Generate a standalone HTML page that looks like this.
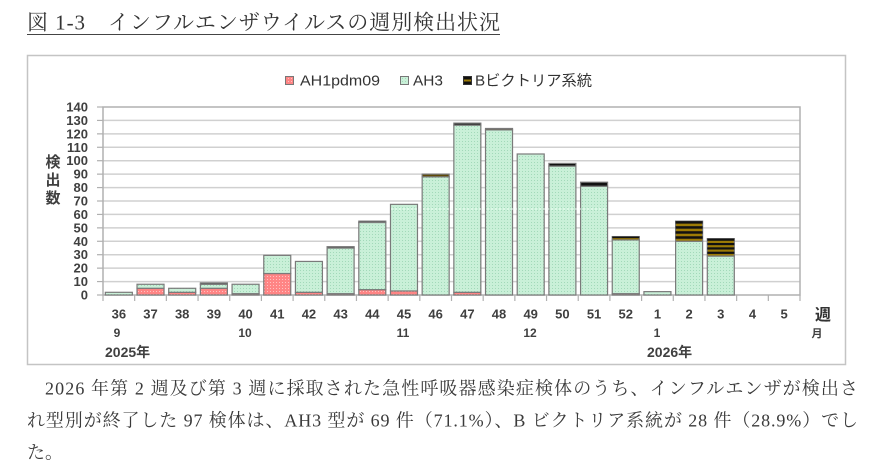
<!DOCTYPE html>
<html><head><meta charset="utf-8"><style>
html,body{margin:0;padding:0;background:#fff;}
svg{display:block;}
.s{font-family:"Liberation Sans","Noto Sans CJK JP",sans-serif;}
.m{font-family:"Liberation Serif","Noto Serif CJK SC",serif;}
</style></head><body>
<svg width="886" height="472" viewBox="0 0 886 472" xmlns="http://www.w3.org/2000/svg">
<defs>
<pattern id="g" width="3" height="3" patternUnits="userSpaceOnUse"><rect width="3" height="3" fill="#c9f0d8"/><rect width="1" height="1" fill="#a2d9b9"/></pattern>
<pattern id="r" width="3" height="3" patternUnits="userSpaceOnUse"><rect width="3" height="3" fill="#ff8585"/><rect width="1" height="1" fill="#ffc2c2"/></pattern>
</defs>
<rect width="886" height="472" fill="#fff"/>
<!-- title -->
<text class="m" x="27" y="29.5" font-size="21" fill="#333" textLength="473" lengthAdjust="spacing">図 1-3　インフルエンザウイルスの週別検出状況</text>
<line x1="27" y1="34.5" x2="500" y2="34.5" stroke="#444" stroke-width="1"/>
<!-- chart box -->
<rect x="27.5" y="55.5" width="818" height="309" fill="#fff" stroke="#c4c4c4" stroke-width="1.5"/>
<!-- legend -->
<rect x="285.5" y="76.5" width="8" height="8" fill="url(#r)" stroke="#777" stroke-width="1"/>
<text class="s" x="300" y="85.5" font-size="15" fill="#333" textLength="80" lengthAdjust="spacingAndGlyphs">AH1pdm09</text>
<rect x="400.5" y="76.5" width="8" height="8" fill="url(#g)" stroke="#777" stroke-width="1"/>
<text class="s" x="413" y="85.5" font-size="15" fill="#333" textLength="30" lengthAdjust="spacingAndGlyphs">AH3</text>
<rect x="463.5" y="76.5" width="8" height="8" fill="#111" stroke="#333" stroke-width="1"/>
<rect x="464" y="79.5" width="7" height="2" fill="#9c7b06"/>
<text class="s" x="475" y="85.5" font-size="15" fill="#333" textLength="117" lengthAdjust="spacingAndGlyphs">Bビクトリア系統</text>
<!-- gridlines -->
<g stroke="#d0d0d0" stroke-width="1.5">
<line x1="103" x2="800" y1="281.57" y2="281.57"/>
<line x1="103" x2="800" y1="268.14" y2="268.14"/>
<line x1="103" x2="800" y1="254.71" y2="254.71"/>
<line x1="103" x2="800" y1="241.28" y2="241.28"/>
<line x1="103" x2="800" y1="227.86" y2="227.86"/>
<line x1="103" x2="800" y1="214.43" y2="214.43"/>
<line x1="103" x2="800" y1="201" y2="201"/>
<line x1="103" x2="800" y1="187.57" y2="187.57"/>
<line x1="103" x2="800" y1="174.14" y2="174.14"/>
<line x1="103" x2="800" y1="160.71" y2="160.71"/>
<line x1="103" x2="800" y1="147.28" y2="147.28"/>
<line x1="103" x2="800" y1="133.86" y2="133.86"/>
<line x1="103" x2="800" y1="120.43" y2="120.43"/>
</g>
<!-- plot border -->
<rect x="103" y="107" width="697" height="188" fill="none" stroke="#b0b0b0" stroke-width="1.5"/>
<!-- ticks -->
<g stroke="#b0b0b0" stroke-width="1.2">
<line x1="97" x2="103" y1="295" y2="295"/><line x1="97" x2="103" y1="281.57" y2="281.57"/><line x1="97" x2="103" y1="268.14" y2="268.14"/><line x1="97" x2="103" y1="254.71" y2="254.71"/><line x1="97" x2="103" y1="241.28" y2="241.28"/><line x1="97" x2="103" y1="227.86" y2="227.86"/><line x1="97" x2="103" y1="214.43" y2="214.43"/><line x1="97" x2="103" y1="201" y2="201"/><line x1="97" x2="103" y1="187.57" y2="187.57"/><line x1="97" x2="103" y1="174.14" y2="174.14"/><line x1="97" x2="103" y1="160.71" y2="160.71"/><line x1="97" x2="103" y1="147.28" y2="147.28"/><line x1="97" x2="103" y1="133.86" y2="133.86"/><line x1="97" x2="103" y1="120.43" y2="120.43"/><line x1="97" x2="103" y1="107" y2="107"/>
<line x1="103" x2="103" y1="295" y2="301"/><line x1="134.68" x2="134.68" y1="295" y2="301"/><line x1="166.36" x2="166.36" y1="295" y2="301"/><line x1="198.05" x2="198.05" y1="295" y2="301"/><line x1="229.73" x2="229.73" y1="295" y2="301"/><line x1="261.41" x2="261.41" y1="295" y2="301"/><line x1="293.09" x2="293.09" y1="295" y2="301"/><line x1="324.77" x2="324.77" y1="295" y2="301"/><line x1="356.45" x2="356.45" y1="295" y2="301"/><line x1="388.14" x2="388.14" y1="295" y2="301"/><line x1="419.82" x2="419.82" y1="295" y2="301"/><line x1="451.5" x2="451.5" y1="295" y2="301"/><line x1="483.18" x2="483.18" y1="295" y2="301"/><line x1="514.86" x2="514.86" y1="295" y2="301"/><line x1="546.55" x2="546.55" y1="295" y2="301"/><line x1="578.23" x2="578.23" y1="295" y2="301"/><line x1="609.91" x2="609.91" y1="295" y2="301"/><line x1="641.59" x2="641.59" y1="295" y2="301"/><line x1="673.27" x2="673.27" y1="295" y2="301"/><line x1="704.95" x2="704.95" y1="295" y2="301"/><line x1="736.64" x2="736.64" y1="295" y2="301"/><line x1="768.32" x2="768.32" y1="295" y2="301"/><line x1="800" x2="800" y1="295" y2="301"/>
</g>
<!-- bars -->
<g stroke="#7a7a7a" stroke-width="1.2">
<rect x="105.34" y="292.31" width="27" height="2.69" fill="url(#g)"/>
<rect x="137.02" y="288.29" width="27" height="6.71" fill="url(#r)"/>
<rect x="137.02" y="284.26" width="27" height="4.03" fill="url(#g)"/>
<rect x="168.7" y="292.31" width="27" height="2.69" fill="url(#r)"/>
<rect x="168.7" y="288.29" width="27" height="4.03" fill="url(#g)"/>
<rect x="200.38" y="288.29" width="27" height="6.71" fill="url(#r)"/>
<rect x="200.38" y="284.26" width="27" height="4.03" fill="url(#g)"/>
<rect x="200.38" y="282.91" width="27" height="1.34" fill="#111"/>
<rect x="232.07" y="293.66" width="27" height="1.34" fill="url(#r)"/>
<rect x="232.07" y="284.26" width="27" height="9.4" fill="url(#g)"/>
<rect x="263.75" y="273.51" width="27" height="21.49" fill="url(#r)"/>
<rect x="263.75" y="255.38" width="27" height="18.13" fill="url(#g)"/>
<rect x="295.43" y="292.31" width="27" height="2.69" fill="url(#r)"/>
<rect x="295.43" y="261.43" width="27" height="30.88" fill="url(#g)"/>
<rect x="327.11" y="293.66" width="27" height="1.34" fill="url(#r)"/>
<rect x="327.11" y="248" width="27" height="45.66" fill="url(#g)"/>
<rect x="327.11" y="246.66" width="27" height="1.34" fill="#111"/>
<rect x="358.8" y="289.63" width="27" height="5.37" fill="url(#r)"/>
<rect x="358.8" y="222.48" width="27" height="67.15" fill="url(#g)"/>
<rect x="358.8" y="221.14" width="27" height="1.34" fill="#111"/>
<rect x="390.48" y="290.97" width="27" height="4.03" fill="url(#r)"/>
<rect x="390.48" y="204.35" width="27" height="86.62" fill="url(#g)"/>
<rect x="422.16" y="176.82" width="27" height="118.18" fill="url(#g)"/>
<rect x="422.16" y="174.14" width="27" height="2.68" fill="#5e4a08"/>
<rect x="453.84" y="292.31" width="27" height="2.69" fill="url(#r)"/>
<rect x="453.84" y="125.12" width="27" height="167.19" fill="url(#g)"/>
<rect x="453.84" y="123.11" width="27" height="2.01" fill="#111"/>
<rect x="485.52" y="129.82" width="27" height="165.18" fill="url(#g)"/>
<rect x="485.52" y="128.48" width="27" height="1.34" fill="#4a3a08"/>
<rect x="517.2" y="153.99" width="27" height="141.01" fill="url(#g)"/>
<rect x="548.89" y="166.08" width="27" height="128.92" fill="url(#g)"/>
<rect x="548.89" y="163.4" width="27" height="2.68" fill="#111"/>
<rect x="580.57" y="186.23" width="27" height="108.77" fill="url(#g)"/>
<rect x="580.57" y="182.2" width="27" height="4.03" fill="#111"/>
<rect x="612.25" y="293.66" width="27" height="1.34" fill="url(#r)"/>
<rect x="612.25" y="239.94" width="27" height="53.72" fill="url(#g)"/>
<rect x="612.25" y="236.58" width="27" height="3.36" fill="#9c7b06"/>
<rect x="643.93" y="291.64" width="27" height="3.36" fill="url(#g)"/>
<rect x="675.61" y="241.28" width="27" height="53.72" fill="url(#g)"/>
<rect x="675.61" y="221.14" width="27" height="20.14" fill="#9c7b06"/>
<rect x="707.3" y="256.06" width="27" height="38.94" fill="url(#g)"/>
<rect x="707.3" y="238.6" width="27" height="17.46" fill="#9c7b06"/>
</g>
<!-- stripes -->
<g fill="#111">
<rect x="612.25" y="236.58" width="27" height="1.6"/>
<rect x="675.61" y="221.14" width="27" height="2.5"/>
<rect x="675.61" y="226.18" width="27" height="2.5"/>
<rect x="675.61" y="231.21" width="27" height="2.5"/>
<rect x="675.61" y="236.25" width="27" height="2.5"/>
<rect x="707.3" y="238.6" width="27" height="2.2"/>
<rect x="707.3" y="242.97" width="27" height="2.2"/>
<rect x="707.3" y="247.33" width="27" height="2.2"/>
<rect x="707.3" y="251.7" width="27" height="2.2"/>
</g>
<line x1="391" y1="209" x2="607" y2="209" stroke="#effff5" stroke-width="1.2" stroke-dasharray="2,2" opacity="0.8"/>
<!-- y labels -->
<g class="s" font-size="13" font-weight="bold" fill="#404040" text-anchor="end">
<text x="88" y="299.5">0</text><text x="88" y="286">10</text><text x="88" y="272.6">20</text><text x="88" y="259.2">30</text><text x="88" y="245.8">40</text><text x="88" y="232.3">50</text><text x="88" y="218.9">60</text><text x="88" y="205.5">70</text><text x="88" y="192">80</text><text x="88" y="178.6">90</text><text x="88" y="165.2">100</text><text x="88" y="151.8">110</text><text x="88" y="138.3">120</text><text x="88" y="124.9">130</text><text x="88" y="111.5">140</text>
</g>
<g class="s" font-size="15" font-weight="bold" fill="#404040" text-anchor="middle">
<text x="53" y="167">検</text><text x="53" y="185">出</text><text x="53" y="203">数</text>
</g>
<!-- x labels -->
<g class="s" font-size="13" font-weight="bold" fill="#404040" text-anchor="middle">
<text x="118.84" y="318.5">36</text><text x="150.52" y="318.5">37</text><text x="182.2" y="318.5">38</text><text x="213.88" y="318.5">39</text><text x="245.57" y="318.5">40</text><text x="277.25" y="318.5">41</text><text x="308.93" y="318.5">42</text><text x="340.61" y="318.5">43</text><text x="372.3" y="318.5">44</text><text x="403.98" y="318.5">45</text><text x="435.66" y="318.5">46</text><text x="467.34" y="318.5">47</text><text x="499.02" y="318.5">48</text><text x="530.7" y="318.5">49</text><text x="562.39" y="318.5">50</text><text x="594.07" y="318.5">51</text><text x="625.75" y="318.5">52</text><text x="657.43" y="318.5">1</text><text x="689.11" y="318.5">2</text><text x="720.8" y="318.5">3</text><text x="752.48" y="318.5">4</text><text x="784.16" y="318.5">5</text>
</g>
<g class="s" font-size="12" font-weight="bold" fill="#404040" text-anchor="middle">
<text x="117" y="337">9</text><text x="245" y="337">10</text><text x="403" y="337">11</text><text x="530" y="337">12</text><text x="657" y="337">1</text>
</g>
<text class="s" x="823" y="320" font-size="16" font-weight="bold" fill="#333" text-anchor="middle">週</text>
<text class="s" x="817" y="337" font-size="11" font-weight="bold" fill="#404040" text-anchor="middle">月</text>
<text class="s" x="105" y="357" font-size="14" font-weight="bold" fill="#404040">2025年</text>
<text class="s" x="647" y="357" font-size="14" font-weight="bold" fill="#404040">2026年</text>
<!-- body text -->
<g class="m" font-size="18" fill="#3a3a3a">
<text x="45" y="394.5" textLength="813" lengthAdjust="spacing">2026 年第 2 週及び第 3 週に採取された急性呼吸器感染症検体のうち、インフルエンザが検出さ</text>
<text x="27" y="426.5" textLength="831" lengthAdjust="spacing">れ型別が終了した 97 検体は、AH3 型が 69 件（71.1%）、B ビクトリア系統が 28 件（28.9%）でし</text>
<text x="27" y="458.5">た。</text>
</g>
</svg>
</body></html>
